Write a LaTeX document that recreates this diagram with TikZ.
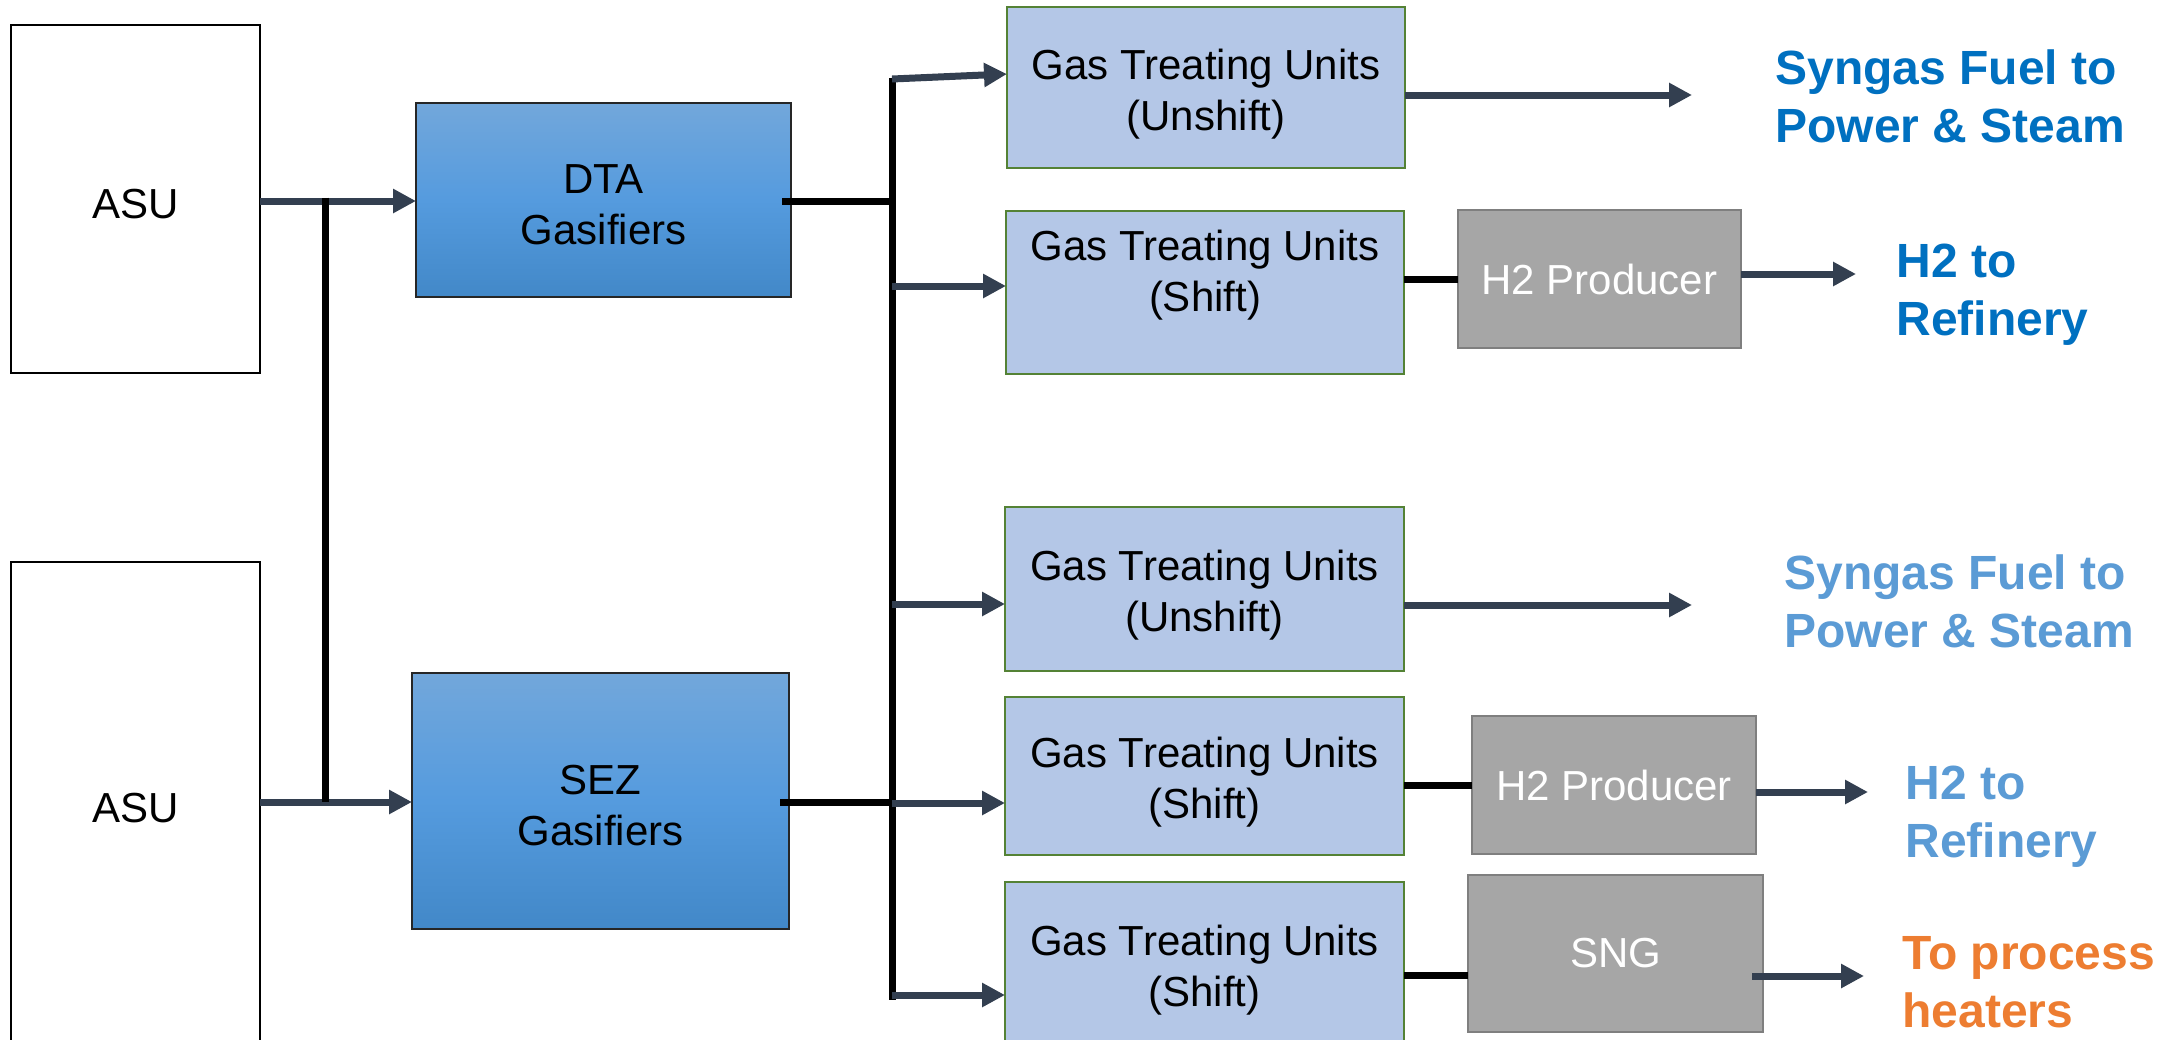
\documentclass[tikz,border=0pt]{standalone}
\usepackage{fontspec}
\setmainfont{Liberation Sans}
\usetikzlibrary{arrows.meta,calc}
\definecolor{arrc}{RGB}{51,63,80}
\definecolor{gtop}{RGB}{114,167,219}
\definecolor{gmid}{RGB}{85,155,222}
\definecolor{gbot}{RGB}{66,136,200}
\definecolor{gtufill}{RGB}{180,199,231}
\definecolor{gtuline}{RGB}{84,130,53}
\definecolor{grayfill}{RGB}{166,166,166}
\definecolor{grayline}{RGB}{127,127,127}
\definecolor{blueA}{RGB}{0,112,192}
\definecolor{blueB}{RGB}{91,155,213}
\definecolor{orangeA}{RGB}{237,125,49}
\tikzset{
  x=0.5pt, y=-0.5pt,
  boxbase/.style={inner sep=0pt, outer sep=0pt, align=center,
    font=\fontsize{21}{25.5}\selectfont},
  gtutext/.style={text height=42.8pt, text depth=0pt},
  asubox/.style={boxbase, text height=19.3pt, text depth=0pt, draw=black, line width=1.1pt, fill=white},
  gasbox/.style={boxbase, text height=44.8pt, text depth=0pt, draw=black!85, line width=0.8pt,
    top color=gtop, bottom color=gbot, middle color=gmid},
  gtubox/.style={boxbase, gtutext, draw=gtuline, line width=1pt, fill=gtufill},
  graybox/.style={boxbase, draw=grayline, line width=1.4pt, fill=grayfill, text=white},
  sz/.style 2 args={minimum width=#1, minimum height=#2},
  arr/.style={draw=arrc, line width=3.5pt, -{Triangle[length=11.5pt,width=11.5pt]}},
  blk/.style={draw=black, line width=3.5pt},
  outlbl/.style={font=\bfseries\fontsize{24}{29}\selectfont, align=left, anchor=base west, inner sep=0pt},
}
\begin{document}
\begin{tikzpicture}
\useasboundingbox (0,0) rectangle (2167,1039);
\clip (0,0) rectangle (2167,1039);
\fill[white] (0,0) rectangle (2167,1039);

% boxes
\node[asubox, sz={124.5pt}{174pt}] (asu1) at (135.5,199) {ASU};
\node[asubox, sz={124.5pt}{241.5pt}] (asu2) at (135.5,803.5) {ASU};
\node[gasbox, sz={187.5pt}{97pt}] (dta) at (603.5,200) {DTA\\Gasifiers};
\node[gasbox, sz={188.5pt}{128pt}] (sez) at (600.5,801) {SEZ\\Gasifiers};

\node[gtubox, sz={199pt}{80.5pt}] (gtu1) at (1206,87.5) {Gas Treating Units\\(Unshift)};
\node[gtubox, sz={199pt}{81.5pt}] (gtu2) at (1205,292.5) {};
\node[boxbase, gtutext] (gtu2t) at ($(gtu2.center)+(0,-24)$) {Gas Treating Units\\(Shift)};
\node[gtubox, sz={199.5pt}{82pt}] (gtu3) at (1204.5,589) {Gas Treating Units\\(Unshift)};
\node[gtubox, sz={199.5pt}{79pt}] (gtu4) at (1204.5,776) {Gas Treating Units\\(Shift)};
\node[gtubox, sz={199.5pt}{82pt}] (gtu5) at (1204.5,964) {Gas Treating Units\\(Shift)};

\node[graybox, sz={141.5pt}{69pt}] (h2a) at (1599.5,279) {H2 Producer};
\node[graybox, sz={142pt}{69pt}] (h2b) at (1614,785) {H2 Producer};
\node[graybox, sz={147.5pt}{78.5pt}] (sng) at (1615.5,953.5) {SNG};

% output labels (anchor at baseline of last line)
\node[outlbl, text=blueA] (l1) at (1775,142) {Syngas Fuel to\\Power \& Steam};
\node[outlbl, text=blueA] (l2) at (1896,335) {H2 to\\Refinery};
\node[outlbl, text=blueB] (l3) at (1784,647) {Syngas Fuel to\\Power \& Steam};
\node[outlbl, text=blueB] (l4) at (1905,857) {H2 to\\Refinery};
\node[outlbl, text=orangeA] (l5) at (1902,1027) {To process\\heaters};

% coordinates
\coordinate (j1) at (325,201);
\coordinate (j2) at (325,802);
\coordinate (bt) at (892,78);
\coordinate (bb) at (892,1000);
\coordinate (b1) at (892,79);
\coordinate (b2) at (892,286);
\coordinate (b3) at (892,604);
\coordinate (b4) at (892,803);
\coordinate (b5) at (892,995);
\coordinate (bd) at (892,201);
\coordinate (bs) at (892,802);
\coordinate (o1) at (1692,95);
\coordinate (o2) at (1856,274);
\coordinate (o3) at (1692,605);
\coordinate (o4) at (1868,792);
\coordinate (o5) at (1864,976);

% ASU to gasifiers
\draw[arr] (asu1.east |- j1) -- (dta.west |- j1);
\draw[arr] (asu2.east |- j2) -- (sez.west |- j2);
\draw[blk] ([yshift=1.75pt]j1) -- (j2);

% gasifiers to bus
\draw[blk] ([xshift=-4.5pt]dta.east |- bd) -- (bd);
\draw[blk] ([xshift=-4.5pt]sez.east |- bs) -- (bs);
\draw[blk] (bt) -- (bb);

% bus to gas treating units
\draw[arr] (b1) -- (gtu1.west |- 0,74);
\draw[arr] (b2) -- (gtu2.west |- b2);
\draw[arr] (b3) -- (gtu3.west |- b3);
\draw[arr] (b4) -- (gtu4.west |- b4);
\draw[arr] (b5) -- (gtu5.west |- b5);

% outputs
\draw[arr] (gtu1.east |- o1) -- (o1);
\draw[blk] (gtu2.east |- h2a.west) -- (h2a.west);
\draw[arr] (h2a.east |- o2) -- (o2);
\draw[arr] (gtu3.east |- o3) -- (o3);
\draw[blk] (gtu4.east |- h2b.west) -- (h2b.west);
\draw[arr] (h2b.east |- o4) -- (o4);
\draw[blk] (gtu5.east |- 0,975) -- (sng.west |- 0,975);
\draw[arr] ([xshift=-5.5pt]sng.east |- o5) -- (o5);
\end{tikzpicture}
\end{document}
